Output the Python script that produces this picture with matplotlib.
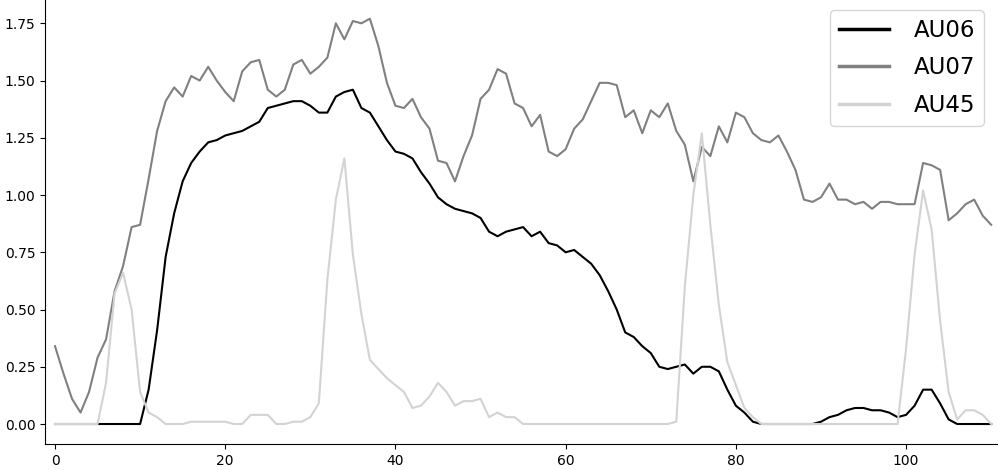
import numpy as np
import matplotlib.pyplot as plt

frames = np.arange(111)

au06 = [0, 0, 0, 0, 0, 0, 0, 0, 0, 0,
        0, 0.15, 0.41, 0.73, 0.92, 1.06, 1.14, 1.19, 1.23, 1.24,
        1.26, 1.27, 1.28, 1.30, 1.32, 1.38, 1.39, 1.40, 1.41, 1.41,
        1.39, 1.36, 1.36, 1.43, 1.45, 1.46, 1.38, 1.36, 1.30, 1.24,
        1.19, 1.18, 1.16, 1.10, 1.05, 0.99, 0.96, 0.94, 0.93, 0.92,
        0.90, 0.84, 0.82, 0.84, 0.85, 0.86, 0.82, 0.84, 0.79, 0.78,
        0.75, 0.76, 0.73, 0.70, 0.65, 0.58, 0.50, 0.40, 0.38, 0.34,
        0.31, 0.25, 0.24, 0.25, 0.26, 0.22, 0.25, 0.25, 0.23, 0.15,
        0.08, 0.05, 0.01, 0, 0, 0, 0, 0, 0, 0,
        0.01, 0.03, 0.04, 0.06, 0.07, 0.07, 0.06, 0.06, 0.05, 0.03,
        0.04, 0.08, 0.15, 0.15, 0.09, 0.02, 0, 0, 0, 0,
        0]

au07 = [0.34, 0.22, 0.11, 0.05, 0.14, 0.29, 0.37, 0.58, 0.69, 0.86,
        0.87, 1.07, 1.28, 1.41, 1.47, 1.43, 1.52, 1.50, 1.56, 1.50,
        1.45, 1.41, 1.54, 1.58, 1.59, 1.46, 1.43, 1.46, 1.57, 1.59,
        1.53, 1.56, 1.60, 1.75, 1.68, 1.76, 1.75, 1.77, 1.65, 1.49,
        1.39, 1.38, 1.42, 1.34, 1.29, 1.15, 1.14, 1.06, 1.17, 1.26,
        1.42, 1.46, 1.55, 1.53, 1.40, 1.38, 1.30, 1.35, 1.19, 1.17,
        1.20, 1.29, 1.33, 1.41, 1.49, 1.49, 1.48, 1.34, 1.37, 1.27,
        1.37, 1.34, 1.40, 1.28, 1.22, 1.06, 1.21, 1.17, 1.30, 1.23,
        1.36, 1.34, 1.27, 1.24, 1.23, 1.26, 1.19, 1.11, 0.98, 0.97,
        0.99, 1.05, 0.98, 0.98, 0.96, 0.97, 0.94, 0.97, 0.97, 0.96,
        0.96, 0.96, 1.14, 1.13, 1.11, 0.89, 0.92, 0.96, 0.98, 0.91,
        0.87]

au45 = [0, 0, 0, 0, 0, 0, 0.18, 0.57, 0.66, 0.50,
        0.14, 0.05, 0.03, 0, 0, 0, 0.01, 0.01, 0.01, 0.01,
        0.01, 0, 0, 0.04, 0.04, 0.04, 0, 0, 0.01, 0.01,
        0.03, 0.09, 0.63, 0.98, 1.16, 0.74, 0.48, 0.28, 0.24, 0.20,
        0.17, 0.14, 0.07, 0.08, 0.12, 0.18, 0.14, 0.08, 0.10, 0.10,
        0.11, 0.03, 0.05, 0.03, 0.03, 0, 0, 0, 0, 0,
        0, 0, 0, 0, 0, 0, 0, 0, 0, 0,
        0, 0, 0, 0.01, 0.60, 1.00, 1.27, 0.87, 0.52, 0.27,
        0.17, 0.07, 0.03, 0, 0, 0, 0, 0, 0, 0,
        0, 0, 0, 0, 0, 0, 0, 0, 0, 0,
        0.33, 0.74, 1.02, 0.85, 0.45, 0.14, 0.02, 0.06, 0.06, 0.04,
        0]

fig = plt.figure(figsize=(9.98, 4.70), dpi=100)
ax = fig.add_axes([45 / 998, 26 / 470, 953 / 998, 444 / 470])

ax.plot(frames, au06, color='black', lw=1.5, label='AU06')
ax.plot(frames, au07, color='grey', lw=1.5, label='AU07')
ax.plot(frames, au45, color='lightgrey', lw=1.5, label='AU45')

ax.set_xlim(-1.175, 110.8)
ax.set_ylim(-0.0873, 1.8518)
ax.set_xticks([0, 20, 40, 60, 80, 100])
ax.set_yticks(np.arange(0, 1.76, 0.25))
ax.yaxis.set_major_formatter(plt.FormatStrFormatter('%.2f'))
ax.spines['top'].set_visible(False)
ax.spines['right'].set_visible(False)

leg = ax.legend(loc='upper right', bbox_to_anchor=(0.9853, 0.9775),
                borderaxespad=0, fontsize=16.5, handlelength=2.2,
                handletextpad=1.05, labelspacing=0.62, borderpad=0.4)
for line in leg.get_lines():
    line.set_linewidth(2.5)

fig.savefig('out.png', dpi=100)
